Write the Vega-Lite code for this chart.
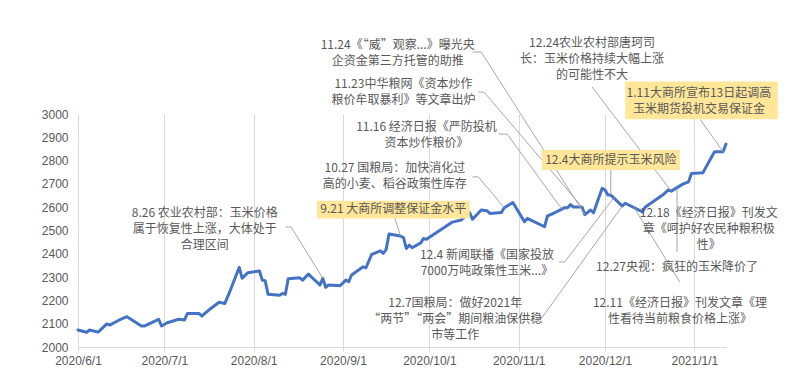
{
  "$schema": "https://vega.github.io/schema/vega-lite/v6.json",
  "width": 648,
  "height": 233,
  "autosize": {"type": "none"},
  "padding": {"left": 78, "top": 114, "right": 61, "bottom": 29},
  "background": "white",
  "config": {"view": {"stroke": null}, "font": "Liberation Sans"},
  "encoding": {
    "x": {
      "field": "date",
      "type": "temporal",
      "scale": {
        "type": "utc",
        "domain": [
          {"year": 2020, "month": 6, "date": 1, "utc": true},
          {"year": 2021, "month": 1, "date": 12, "utc": true}
        ]
      },
      "axis": {
        "title": null,
        "values": [
          {"year": 2020, "month": 6, "date": 1, "utc": true},
          {"year": 2020, "month": 7, "date": 1, "utc": true},
          {"year": 2020, "month": 8, "date": 1, "utc": true},
          {"year": 2020, "month": 9, "date": 1, "utc": true},
          {"year": 2020, "month": 10, "date": 1, "utc": true},
          {"year": 2020, "month": 11, "date": 1, "utc": true},
          {"year": 2020, "month": 12, "date": 1, "utc": true},
          {"year": 2021, "month": 1, "date": 1, "utc": true}
        ],
        "format": "%Y/%-m/%-d",
        "labelColor": "#595959",
        "labelFontSize": 12,
        "labelFont": "Liberation Sans",
        "labelPadding": 4,
        "labelFlush": false,
        "labelOverlap": false,
        "tickSize": 4,
        "tickColor": "#D9D9D9",
        "domainColor": "#D9D9D9",
        "grid": true,
        "gridColor": "#D9D9D9"
      }
    },
    "y": {
      "field": "value",
      "type": "quantitative",
      "scale": {"domain": [2000, 3000], "nice": false, "zero": false},
      "axis": {
        "title": null,
        "values": [2000, 2100, 2200, 2300, 2400, 2500, 2600, 2700, 2800, 2900, 3000],
        "format": "d",
        "grid": false,
        "domain": false,
        "ticks": false,
        "labelPadding": 10,
        "labelColor": "#595959",
        "labelFontSize": 12,
        "labelFont": "Liberation Sans"
      }
    }
  },
  "layer": [
    {
      "data": {
        "values": [
          {"date": "2020-06-01", "value": 2073},
          {"date": "2020-06-04", "value": 2063},
          {"date": "2020-06-05", "value": 2073},
          {"date": "2020-06-08", "value": 2064},
          {"date": "2020-06-11", "value": 2099},
          {"date": "2020-06-12", "value": 2094},
          {"date": "2020-06-16", "value": 2120},
          {"date": "2020-06-18", "value": 2130},
          {"date": "2020-06-23", "value": 2090},
          {"date": "2020-06-24", "value": 2090},
          {"date": "2020-06-29", "value": 2119},
          {"date": "2020-06-30", "value": 2090},
          {"date": "2020-07-02", "value": 2104},
          {"date": "2020-07-06", "value": 2119},
          {"date": "2020-07-08", "value": 2116},
          {"date": "2020-07-09", "value": 2144},
          {"date": "2020-07-13", "value": 2144},
          {"date": "2020-07-14", "value": 2133},
          {"date": "2020-07-16", "value": 2154},
          {"date": "2020-07-17", "value": 2164},
          {"date": "2020-07-20", "value": 2192},
          {"date": "2020-07-22", "value": 2187},
          {"date": "2020-07-24", "value": 2247},
          {"date": "2020-07-27", "value": 2342},
          {"date": "2020-07-28", "value": 2295},
          {"date": "2020-07-30", "value": 2319},
          {"date": "2020-08-03", "value": 2326},
          {"date": "2020-08-04", "value": 2287},
          {"date": "2020-08-05", "value": 2284},
          {"date": "2020-08-06", "value": 2226},
          {"date": "2020-08-10", "value": 2222},
          {"date": "2020-08-11", "value": 2230},
          {"date": "2020-08-12", "value": 2226},
          {"date": "2020-08-13", "value": 2293},
          {"date": "2020-08-17", "value": 2297},
          {"date": "2020-08-18", "value": 2287},
          {"date": "2020-08-20", "value": 2313},
          {"date": "2020-08-24", "value": 2266},
          {"date": "2020-08-25", "value": 2295},
          {"date": "2020-08-26", "value": 2256},
          {"date": "2020-08-27", "value": 2266},
          {"date": "2020-08-31", "value": 2263},
          {"date": "2020-09-02", "value": 2287},
          {"date": "2020-09-03", "value": 2280},
          {"date": "2020-09-04", "value": 2309},
          {"date": "2020-09-08", "value": 2344},
          {"date": "2020-09-09", "value": 2340},
          {"date": "2020-09-11", "value": 2398},
          {"date": "2020-09-14", "value": 2413},
          {"date": "2020-09-15", "value": 2402},
          {"date": "2020-09-16", "value": 2419},
          {"date": "2020-09-17", "value": 2485},
          {"date": "2020-09-21", "value": 2476},
          {"date": "2020-09-22", "value": 2470},
          {"date": "2020-09-23", "value": 2423},
          {"date": "2020-09-24", "value": 2437},
          {"date": "2020-09-25", "value": 2426},
          {"date": "2020-09-28", "value": 2447},
          {"date": "2020-09-29", "value": 2466},
          {"date": "2020-09-30", "value": 2462},
          {"date": "2020-10-09", "value": 2536},
          {"date": "2020-10-12", "value": 2545},
          {"date": "2020-10-15", "value": 2576},
          {"date": "2020-10-16", "value": 2548},
          {"date": "2020-10-19", "value": 2588},
          {"date": "2020-10-21", "value": 2585},
          {"date": "2020-10-22", "value": 2573},
          {"date": "2020-10-26", "value": 2577},
          {"date": "2020-10-27", "value": 2598},
          {"date": "2020-10-30", "value": 2620},
          {"date": "2020-11-03", "value": 2538},
          {"date": "2020-11-04", "value": 2552},
          {"date": "2020-11-10", "value": 2516},
          {"date": "2020-11-11", "value": 2563},
          {"date": "2020-11-13", "value": 2573},
          {"date": "2020-11-16", "value": 2592},
          {"date": "2020-11-17", "value": 2598},
          {"date": "2020-11-18", "value": 2598},
          {"date": "2020-11-19", "value": 2611},
          {"date": "2020-11-20", "value": 2601},
          {"date": "2020-11-23", "value": 2601},
          {"date": "2020-11-24", "value": 2568},
          {"date": "2020-11-26", "value": 2588},
          {"date": "2020-11-27", "value": 2576},
          {"date": "2020-11-30", "value": 2681},
          {"date": "2020-12-01", "value": 2674},
          {"date": "2020-12-02", "value": 2652},
          {"date": "2020-12-03", "value": 2652},
          {"date": "2020-12-04", "value": 2640},
          {"date": "2020-12-07", "value": 2605},
          {"date": "2020-12-08", "value": 2617},
          {"date": "2020-12-14", "value": 2580},
          {"date": "2020-12-15", "value": 2601},
          {"date": "2020-12-21", "value": 2652},
          {"date": "2020-12-23", "value": 2674},
          {"date": "2020-12-24", "value": 2669},
          {"date": "2020-12-28", "value": 2699},
          {"date": "2020-12-30", "value": 2709},
          {"date": "2020-12-31", "value": 2745},
          {"date": "2021-01-04", "value": 2748},
          {"date": "2021-01-05", "value": 2771},
          {"date": "2021-01-08", "value": 2838},
          {"date": "2021-01-11", "value": 2838},
          {"date": "2021-01-12", "value": 2871}
        ],
        "format": {"parse": {"date": "date"}}
      },
      "mark": {"type": "line", "color": "#4472C4", "strokeWidth": 3, "strokeJoin": "round", "strokeCap": "round"}
    },
    {
      "data": {
        "values": [
          {"id": "a", "seq": 1, "date": "2020-10-16", "value": 3266},
          {"id": "a", "seq": 2, "date": "2020-10-19", "value": 3266},
          {"id": "a", "seq": 3, "date": "2020-11-24", "value": 2568},
          {"id": "b", "seq": 1, "date": "2020-10-18", "value": 3094},
          {"id": "b", "seq": 2, "date": "2020-10-20", "value": 3094},
          {"id": "b", "seq": 3, "date": "2020-11-23", "value": 2601},
          {"id": "c", "seq": 1, "date": "2020-10-25", "value": 2914},
          {"id": "c", "seq": 2, "date": "2020-10-28", "value": 2914},
          {"id": "c", "seq": 3, "date": "2020-11-16", "value": 2592},
          {"id": "d", "seq": 1, "date": "2020-10-16", "value": 2730},
          {"id": "d", "seq": 2, "date": "2020-10-18", "value": 2730},
          {"id": "d", "seq": 3, "date": "2020-10-27", "value": 2598},
          {"id": "e", "seq": 1, "date": "2020-09-19", "value": 2553},
          {"id": "e", "seq": 2, "date": "2020-09-21", "value": 2476},
          {"id": "f", "seq": 1, "date": "2020-08-12", "value": 2515},
          {"id": "f", "seq": 2, "date": "2020-08-14", "value": 2515},
          {"id": "f", "seq": 3, "date": "2020-08-25", "value": 2295},
          {"id": "g", "seq": 1, "date": "2020-11-15", "value": 2365},
          {"id": "g", "seq": 2, "date": "2020-11-17", "value": 2365},
          {"id": "g", "seq": 3, "date": "2020-12-04", "value": 2640},
          {"id": "h", "seq": 1, "date": "2020-11-07", "value": 2124},
          {"id": "h", "seq": 2, "date": "2020-11-09", "value": 2124},
          {"id": "h", "seq": 3, "date": "2020-12-07", "value": 2605},
          {"id": "i", "seq": 1, "date": "2020-11-26T12:00:00Z", "value": 3116},
          {"id": "i", "seq": 2, "date": "2020-12-24", "value": 2669},
          {"id": "j", "seq": 1, "date": "2020-12-03", "value": 2760},
          {"id": "j", "seq": 2, "date": "2020-12-03", "value": 2652},
          {"id": "k", "seq": 1, "date": "2021-01-03", "value": 2977},
          {"id": "k", "seq": 2, "date": "2021-01-11", "value": 2838},
          {"id": "l", "seq": 1, "date": "2020-12-26", "value": 2408},
          {"id": "l", "seq": 2, "date": "2020-12-26", "value": 2680},
          {"id": "m", "seq": 1, "date": "2020-12-27", "value": 2279},
          {"id": "m", "seq": 2, "date": "2020-12-11", "value": 2600}
        ],
        "format": {"parse": {"date": "date"}}
      },
      "mark": {"type": "line", "color": "#A6A6A6", "strokeWidth": 1},
      "encoding": {
        "detail": {"field": "id", "type": "nominal"},
        "order": {"field": "seq", "type": "quantitative"}
      }
    },
    {
      "data": {
        "values": [
          {"date": "2020-08-23", "date2": "2020-10-15", "value": 2552, "value2": 2628},
          {"date": "2020-11-09", "date2": "2020-12-27", "value": 2760, "value2": 2846},
          {"date": "2020-12-08", "date2": "2021-01-30", "value": 2977, "value2": 3139}
        ],
        "format": {"parse": {"date": "date", "date2": "date"}}
      },
      "mark": {"type": "rect", "color": "#FFE699"},
      "encoding": {
        "x2": {"field": "date2"},
        "y2": {"field": "value2"}
      }
    },
    {
      "data": {
        "values": [
          {"date": "2020-09-20", "value": 3296, "label": "11.24《“威”观察...》曝光央\n企资金第三方托管的助推"},
          {"date": "2020-09-22", "value": 3129, "label": "11.23中华粮网《资本炒作\n粮价牟取暴利》等文章出炉"},
          {"date": "2020-09-30", "value": 2944, "label": "11.16 经济日报《严防投机\n资本炒作粮价》"},
          {"date": "2020-09-19", "value": 2768, "label": "10.27 国粮局：加快消化过\n高的小麦、稻谷政策性库存"},
          {"date": "2020-09-18T12:00:00Z", "value": 2592, "label": "9.21 大商所调整保证金水平"},
          {"date": "2020-07-15", "value": 2574, "label": "8.26 农业农村部：玉米价格\n属于恢复性上涨，大体处于\n合理区间"},
          {"date": "2020-10-21", "value": 2395, "label": "12.4 新闻联播《国家投放\n7000万吨政策性玉米...》"},
          {"date": "2020-10-10", "value": 2189, "label": "12.7国粮局：做好2021年\n“两节”“两会”期间粮油保供稳\n市等工作"},
          {"date": "2020-11-26T12:00:00Z", "value": 3305, "label": "12.24农业农村部唐珂司\n长：玉米价格持续大幅上涨\n的可能性不大"},
          {"date": "2020-12-03", "value": 2803, "label": "12.4大商所提示玉米风险"},
          {"date": "2021-01-02T14:00:00Z", "value": 3090, "label": "1.11大商所宣布13日起调高\n玉米期货投机交易保证金"},
          {"date": "2021-01-06", "value": 2575, "label": "12.18《经济日报》刊发文\n章《呵护好农民种粮积极\n性》"},
          {"date": "2020-12-26", "value": 2343, "label": "12.27央视：疯狂的玉米降价了"},
          {"date": "2020-12-27", "value": 2189, "label": "12.11《经济日报》刊发文章《理\n性看待当前粮食价格上涨》"}
        ],
        "format": {"parse": {"date": "date"}}
      },
      "mark": {
        "type": "text",
        "align": "center",
        "baseline": "middle",
        "lineBreak": "\n",
        "font": "Noto Sans CJK SC",
        "fontSize": 12,
        "lineHeight": 16,
        "color": "#595959"
      },
      "encoding": {
        "text": {"field": "label", "type": "nominal"}
      }
    }
  ]
}
